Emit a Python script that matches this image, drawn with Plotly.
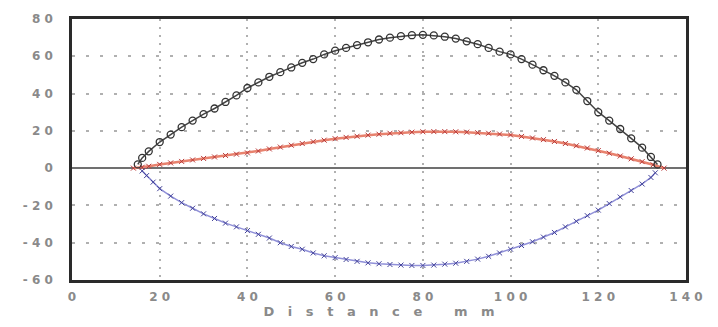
import plotly.graph_objects as go

# Black series (open circles)
black_x = [15, 16, 17.5, 20, 22.5, 25, 27.5, 30, 32.5, 35, 37.5, 40, 42.5, 45, 47.5, 50, 52.5, 55, 57.5, 60,
           62.5, 65, 67.5, 70, 72.5, 75, 77.5, 80, 82.5, 85, 87.5, 90, 92.5, 95, 97.5, 100, 102.5, 105,
           107.5, 110, 112.5, 115, 117.5, 120, 122.5, 125, 127.5, 130, 132, 133.5]
black_y = [2, 5.5, 9, 14, 18, 22, 25.5, 29, 32, 35.5, 39, 43, 46, 49, 51.5, 54, 56.5, 58.5, 61, 63,
           64.5, 66, 67.5, 69, 70, 70.8, 71.3, 71.5, 71.2, 70.5, 69.5, 68, 66.5, 64.5, 62.5, 61, 58.5, 55.5,
           52.5, 49.5, 46, 42, 36, 30, 25.5, 21, 16, 11, 6, 2]

# Red series
red_x = [14, 16, 17.5, 20, 22.5, 25, 27.5, 30, 32.5, 35, 37.5, 40, 42.5, 45, 47.5, 50, 52.5, 55, 57.5, 60,
         62.5, 65, 67.5, 70, 72.5, 75, 77.5, 80, 82.5, 85, 87.5, 90, 92.5, 95, 97.5, 100, 102.5, 105,
         107.5, 110, 112.5, 115, 117.5, 120, 122.5, 125, 127.5, 130, 132.5, 135]
red_y = [0, 0.5, 1, 2, 2.8, 3.6, 4.4, 5.2, 6, 6.8, 7.5, 8.2, 9.2, 10.3, 11.3, 12.3, 13.2, 14.2, 15, 15.8,
         16.5, 17.1, 17.7, 18.2, 18.7, 19, 19.3, 19.5, 19.6, 19.6, 19.5, 19.3, 19, 18.7, 18.3, 17.8, 17, 16.2,
         15.3, 14.3, 13.2, 12, 10.8, 9.4, 8, 6.5, 5, 3.5, 1.8, 0]

# Blue series
blue_x = [16, 17, 18.5, 20, 22.5, 25, 27.5, 30, 32.5, 35, 37.5, 40, 42.5, 45, 47.5, 50, 52.5, 55, 57.5, 60,
          62.5, 65, 67.5, 70, 72.5, 75, 77.5, 80, 82.5, 85, 87.5, 90, 92.5, 95, 97.5, 100, 102.5, 105,
          107.5, 110, 112.5, 115, 117.5, 120, 122.5, 125, 127.5, 130, 132, 133]
blue_y = [-1.5, -4, -7.5, -11, -15, -18.5, -21.5, -24.5, -27, -29.5, -31.5, -33.5, -35.5, -37.5, -40, -42, -43.5, -45.5, -47, -48,
          -49, -50, -50.8, -51.3, -51.7, -52, -52.2, -52.2, -52, -51.5, -51, -50, -48.8, -47.3, -45.5, -43.5, -41.5, -39.5,
          -37, -34.5, -31.5, -28.5, -25.5, -22.5, -19, -15.5, -12, -8.5, -5, -2.5]

x_ticks = [0, 20, 40, 60, 80, 100, 120, 140]
x_ticktext = ["0", "2 0", "4 0", "6 0", "8 0", "1 0 0", "1 2 0", "1 4 0"]
y_ticks = [-60, -40, -20, 0, 20, 40, 60, 80]
y_ticktext = ["- 6 0", "- 4 0", "- 2 0", "0", "2 0", "4 0", "6 0", "8 0"]
x_title = "D   i   s   t   a   n   c   e       m   m"

fig = go.Figure()
fig.add_trace(go.Scatter(x=red_x, y=red_y, mode="lines+markers",
                         line=dict(color="#e8826e", width=2.5),
                         marker=dict(symbol="x-thin-open", size=5, color="#b83a3a",
                                     line=dict(width=1, color="#b83a3a"))))
fig.add_trace(go.Scatter(x=blue_x, y=blue_y, mode="lines+markers",
                         line=dict(color="#9090d8", width=1.5),
                         marker=dict(symbol="x-thin-open", size=5, color="#44449a",
                                     line=dict(width=1, color="#44449a"))))
fig.add_trace(go.Scatter(x=black_x, y=black_y, mode="lines+markers",
                         line=dict(color="#444444", width=1.5),
                         marker=dict(symbol="circle-open", size=7, color="#333333",
                                     line=dict(width=1.3, color="#333333"))))

fig.update_layout(
    width=718, height=327,
    margin=dict(l=72, r=32, t=14, b=40),
    paper_bgcolor="white", plot_bgcolor="white",
    showlegend=False,
    font=dict(family="DejaVu Sans", size=11, color="#8a8a8a"),
)
fig.update_xaxes(range=[0, 140], tickvals=x_ticks, ticktext=x_ticktext, ticks="", ticklabelstandoff=4,
                 showgrid=True, gridcolor="#b0b0b0", griddash="2px,6px", gridwidth=1.5,
                 showline=True, linecolor="#2a2a2a", linewidth=2.5, mirror=True,
                 zeroline=False,
                 title=dict(text=x_title, font=dict(size=13, color="#8a8a8a", weight="bold"), standoff=2),
                 tickfont=dict(size=12, color="#8a8a8a", weight="bold"))
fig.update_yaxes(range=[-60, 80], tickvals=y_ticks, ticktext=y_ticktext, ticks="", ticklabelstandoff=14,
                 showgrid=True, gridcolor="#b0b0b0", griddash="3px,11px", gridwidth=1.5,
                 showline=True, linecolor="#2a2a2a", linewidth=2.5, mirror=True,
                 zeroline=True, zerolinecolor="#707070", zerolinewidth=2,
                 tickfont=dict(size=12, color="#8a8a8a", weight="bold"))

fig.write_html("out.html")
